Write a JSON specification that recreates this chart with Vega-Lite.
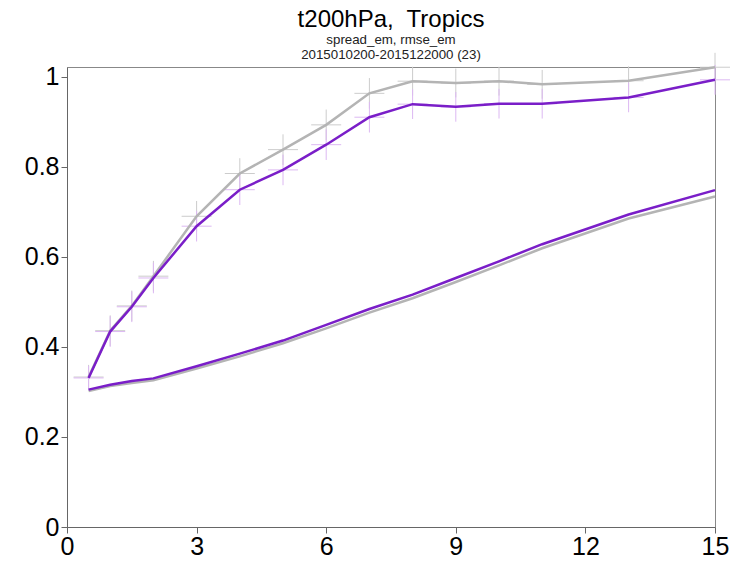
{
  "$schema": "https://vega.github.io/schema/vega-lite/v6.json",
  "autosize": "none",
  "padding": {"left": 67, "top": 67, "right": 18, "bottom": 38},
  "width": 648,
  "height": 460,
  "background": "white",
  "title": {
    "text": "t200hPa,\u00a0 Tropics",
    "subtitle": ["spread_em, rmse_em", "2015010200-2015122000 (23)"],
    "anchor": "middle",
    "font": "Liberation Sans",
    "fontSize": 24,
    "fontWeight": "normal",
    "color": "black",
    "subtitleFont": "Liberation Sans",
    "subtitleFontSize": 13.3,
    "subtitleColor": "#222",
    "subtitlePadding": 1,
    "subtitleLineHeight": 15,
    "offset": -9
  },
  "datasets": {
    "d": [
      {"lead": 0.5, "exp": "gray", "metric": "rmse", "v": 0.333, "lo": 0.306, "hi": 0.360},
      {"lead": 1, "exp": "gray", "metric": "rmse", "v": 0.436, "lo": 0.402, "hi": 0.470},
      {"lead": 1.5, "exp": "gray", "metric": "rmse", "v": 0.491, "lo": 0.457, "hi": 0.525},
      {"lead": 2, "exp": "gray", "metric": "rmse", "v": 0.557, "lo": 0.523, "hi": 0.591},
      {"lead": 3, "exp": "gray", "metric": "rmse", "v": 0.690, "lo": 0.656, "hi": 0.724},
      {"lead": 4, "exp": "gray", "metric": "rmse", "v": 0.785, "lo": 0.751, "hi": 0.819},
      {"lead": 5, "exp": "gray", "metric": "rmse", "v": 0.838, "lo": 0.804, "hi": 0.872},
      {"lead": 6, "exp": "gray", "metric": "rmse", "v": 0.893, "lo": 0.859, "hi": 0.927},
      {"lead": 7, "exp": "gray", "metric": "rmse", "v": 0.963, "lo": 0.929, "hi": 0.997},
      {"lead": 8, "exp": "gray", "metric": "rmse", "v": 0.990, "lo": 0.958, "hi": 1.022},
      {"lead": 9, "exp": "gray", "metric": "rmse", "v": 0.986, "lo": 0.954, "hi": 1.018},
      {"lead": 10, "exp": "gray", "metric": "rmse", "v": 0.990, "lo": 0.958, "hi": 1.022},
      {"lead": 11, "exp": "gray", "metric": "rmse", "v": 0.983, "lo": 0.951, "hi": 1.015},
      {"lead": 13, "exp": "gray", "metric": "rmse", "v": 0.991, "lo": 0.959, "hi": 1.023},
      {"lead": 15, "exp": "gray", "metric": "rmse", "v": 1.021, "lo": 0.989, "hi": 1.053},
      {"lead": 0.5, "exp": "purple", "metric": "rmse", "v": 0.331, "lo": 0.304, "hi": 0.358},
      {"lead": 1, "exp": "purple", "metric": "rmse", "v": 0.434, "lo": 0.400, "hi": 0.468},
      {"lead": 1.5, "exp": "purple", "metric": "rmse", "v": 0.489, "lo": 0.455, "hi": 0.523},
      {"lead": 2, "exp": "purple", "metric": "rmse", "v": 0.553, "lo": 0.519, "hi": 0.587},
      {"lead": 3, "exp": "purple", "metric": "rmse", "v": 0.668, "lo": 0.634, "hi": 0.702},
      {"lead": 4, "exp": "purple", "metric": "rmse", "v": 0.749, "lo": 0.715, "hi": 0.783},
      {"lead": 5, "exp": "purple", "metric": "rmse", "v": 0.793, "lo": 0.759, "hi": 0.827},
      {"lead": 6, "exp": "purple", "metric": "rmse", "v": 0.849, "lo": 0.815, "hi": 0.883},
      {"lead": 7, "exp": "purple", "metric": "rmse", "v": 0.910, "lo": 0.876, "hi": 0.944},
      {"lead": 8, "exp": "purple", "metric": "rmse", "v": 0.939, "lo": 0.906, "hi": 0.972},
      {"lead": 9, "exp": "purple", "metric": "rmse", "v": 0.933, "lo": 0.900, "hi": 0.966},
      {"lead": 10, "exp": "purple", "metric": "rmse", "v": 0.940, "lo": 0.907, "hi": 0.973},
      {"lead": 11, "exp": "purple", "metric": "rmse", "v": 0.940, "lo": 0.907, "hi": 0.973},
      {"lead": 13, "exp": "purple", "metric": "rmse", "v": 0.954, "lo": 0.921, "hi": 0.987},
      {"lead": 15, "exp": "purple", "metric": "rmse", "v": 0.993, "lo": 0.960, "hi": 1.026},
      {"lead": 0.5, "exp": "gray", "metric": "spread", "v": 0.302},
      {"lead": 1, "exp": "gray", "metric": "spread", "v": 0.313},
      {"lead": 1.5, "exp": "gray", "metric": "spread", "v": 0.320},
      {"lead": 2, "exp": "gray", "metric": "spread", "v": 0.326},
      {"lead": 3, "exp": "gray", "metric": "spread", "v": 0.352},
      {"lead": 4, "exp": "gray", "metric": "spread", "v": 0.379},
      {"lead": 5, "exp": "gray", "metric": "spread", "v": 0.408},
      {"lead": 6, "exp": "gray", "metric": "spread", "v": 0.441},
      {"lead": 7, "exp": "gray", "metric": "spread", "v": 0.476},
      {"lead": 8, "exp": "gray", "metric": "spread", "v": 0.508},
      {"lead": 9, "exp": "gray", "metric": "spread", "v": 0.544},
      {"lead": 10, "exp": "gray", "metric": "spread", "v": 0.581},
      {"lead": 11, "exp": "gray", "metric": "spread", "v": 0.619},
      {"lead": 13, "exp": "gray", "metric": "spread", "v": 0.685},
      {"lead": 15, "exp": "gray", "metric": "spread", "v": 0.734},
      {"lead": 0.5, "exp": "purple", "metric": "spread", "v": 0.305},
      {"lead": 1, "exp": "purple", "metric": "spread", "v": 0.316},
      {"lead": 1.5, "exp": "purple", "metric": "spread", "v": 0.324},
      {"lead": 2, "exp": "purple", "metric": "spread", "v": 0.330},
      {"lead": 3, "exp": "purple", "metric": "spread", "v": 0.357},
      {"lead": 4, "exp": "purple", "metric": "spread", "v": 0.385},
      {"lead": 5, "exp": "purple", "metric": "spread", "v": 0.414},
      {"lead": 6, "exp": "purple", "metric": "spread", "v": 0.449},
      {"lead": 7, "exp": "purple", "metric": "spread", "v": 0.484},
      {"lead": 8, "exp": "purple", "metric": "spread", "v": 0.516},
      {"lead": 9, "exp": "purple", "metric": "spread", "v": 0.553},
      {"lead": 10, "exp": "purple", "metric": "spread", "v": 0.590},
      {"lead": 11, "exp": "purple", "metric": "spread", "v": 0.628},
      {"lead": 13, "exp": "purple", "metric": "spread", "v": 0.694},
      {"lead": 15, "exp": "purple", "metric": "spread", "v": 0.748}
    ]
  },
  "data": {"name": "d"},
  "encoding": {
    "x": {
      "field": "lead",
      "type": "quantitative",
      "scale": {"domain": [0, 15], "nice": false, "zero": false},
      "axis": {"values": [0, 3, 6, 9, 12, 15], "title": null, "labelPadding": 1, "labelFlush": false}
    }
  },
  "layer": [
    {
      "transform": [{"filter": "datum.metric === 'rmse'"}],
      "mark": {"type": "rule", "strokeWidth": 1, "clip": false},
      "encoding": {
        "y": {
          "field": "lo",
          "type": "quantitative",
          "scale": {"domain": [0, 1.0215], "nice": false},
          "axis": {"values": [0, 0.2, 0.4, 0.6, 0.8, 1], "format": "~g", "title": null, "labelFlush": false}
        },
        "y2": {"field": "hi"},
        "color": {
          "field": "exp",
          "type": "nominal",
          "scale": {"domain": ["gray", "purple"], "range": ["#cccccc", "#dcb8f2"]},
          "legend": null
        }
      }
    },
    {
      "transform": [{"filter": "datum.metric === 'rmse'"}],
      "mark": {"type": "rule", "strokeWidth": 1, "clip": false, "xOffset": -15, "x2Offset": 15},
      "encoding": {
        "x2": {"field": "lead"},
        "y": {"field": "v", "type": "quantitative"},
        "color": {
          "field": "exp",
          "type": "nominal",
          "scale": {"domain": ["gray", "purple"], "range": ["#cccccc", "#dcb8f2"]},
          "legend": null
        }
      }
    },
    {
      "mark": {"type": "line", "strokeWidth": 2.5, "clip": false},
      "encoding": {
        "y": {"field": "v", "type": "quantitative"},
        "detail": {"field": "metric"},
        "color": {
          "field": "exp",
          "type": "nominal",
          "scale": {"domain": ["gray", "purple"], "range": ["#b4b4b4", "#7a1ec8"]},
          "legend": null
        },
        "order": {"field": "lead", "type": "quantitative"}
      }
    }
  ],
  "resolve": {"scale": {"color": "independent"}},
  "config": {
    "font": "Liberation Sans",
    "view": {"stroke": "#888888", "strokeWidth": 1},
    "axis": {
      "grid": false,
      "domainColor": "#666666",
      "tickColor": "#666666",
      "tickSize": 6,
      "labelFont": "Liberation Sans",
      "labelFontSize": 25,
      "labelColor": "black",
      "labelPadding": 2,
      "title": null
    }
  }
}
